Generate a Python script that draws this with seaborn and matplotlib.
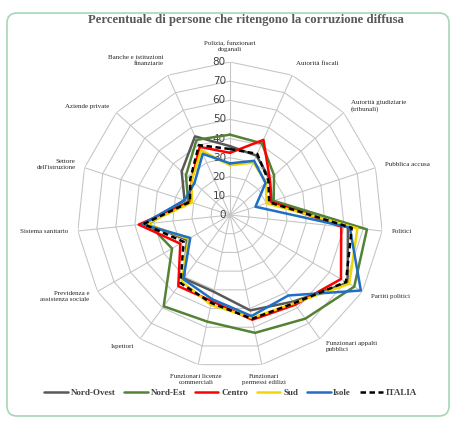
import numpy as np
import pandas as pd
import matplotlib
matplotlib.use("Agg")
import matplotlib.pyplot as plt
import matplotlib.transforms as mtransforms
from matplotlib.patches import FancyBboxPatch
import seaborn as sns

# categories (clockwise from top)
categories = [
    "Polizia, funzionari\ndoganali",
    "Autorità fiscali",
    "Autorità giudiziarie\n(tribunali)",
    "Pubblica accusa",
    "Politici",
    "Partiti politici",
    "Funzionari appalti\npubblici",
    "Funzionari\npermessi edilizi",
    "Funzionari licenze\ncommerciali",
    "Ispettori",
    "Previdenza e\nassistenza sociale",
    "Sistema sanitario",
    "Settore\ndell'istruzione",
    "Aziende private",
    "Banche e istituzioni\nfinanziarie",
]

# values (%)
nord_ovest = [36, 34, 28, 23, 62, 71, 56, 51, 41, 41, 26, 44, 25, 34, 45]
nord_est = [42, 41, 31, 24, 72, 75, 67, 63, 57, 59, 35, 43, 23, 31, 43]
centro = [32.5, 43, 28, 22.5, 58.5, 67, 58, 56, 46, 46, 30, 48, 22, 27, 39]
sud = [26, 30, 25.5, 20, 67, 72, 57, 55, 48, 43, 25, 44, 21, 27, 37]
isole = [27, 31, 25, 14, 63, 79, 52, 54, 45, 41.5, 24, 46, 25, 25, 35]
italia = [34.5, 35, 27, 21.5, 64, 70, 57, 55.5, 47, 44, 28, 45.5, 22, 28, 40]

series_names = ["Nord-Ovest", "Nord-Est", "Centro", "Sud", "Isole", "ITALIA"]
series_vals = [nord_ovest, nord_est, centro, sud, isole, italia]
colors = ["#595959", "#548235", "#ff0000", "#f2d600", "#1f6fc4", "#000000"]
styles = ["-", "-", "-", "-", "-", (0, (2.2, 1.4))]

r_ticks = list(range(0, 81, 10))

sns.set_style("white")
plt.rcParams["font.family"] = ["DejaVu Sans"]

n = len(categories)
theta = np.linspace(0, 2 * np.pi, n, endpoint=False)
theta_closed = np.append(theta, theta[0])

fig = plt.figure(figsize=(4.74, 4.34), dpi=100)
ax = fig.add_axes([77 / 474, 66 / 434, 306 / 474, 306 / 434], projection="polar")
ax.set_theta_zero_location("N")
ax.set_theta_direction(-1)
ax.set_ylim(0, 80)
ax.grid(False)
ax.spines["polar"].set_visible(False)
ax.set_xticks([])
ax.set_yticks([])
ax.patch.set_alpha(0)

# polygon grid
grid_c = "#c4c4c4"
for r in r_ticks[1:]:
    ax.plot(theta_closed, [r] * (n + 1), color=grid_c, lw=0.75, zorder=1)
for t in theta:
    ax.plot([t, t], [0, 80], color=grid_c, lw=0.75, zorder=1)

# radial labels next to the top spoke
off = mtransforms.offset_copy(ax.transData, fig=fig, x=-3, y=0, units="points")
for r in r_ticks:
    ax.text(0, r, str(r), transform=off, ha="right", va="center",
            fontsize=7.5, color="#404040", zorder=2)

# series
for name, vals, c, ls in zip(series_names, series_vals, colors, styles):
    df = pd.DataFrame({"theta": theta_closed, "value": vals + [vals[0]]})
    sns.lineplot(data=df, x="theta", y="value", sort=False, estimator=None,
                 color=c, linestyle=ls, lw=1.8, label=name, ax=ax, zorder=3)

ax.set_xlabel("")
ax.set_ylabel("")
ax.get_legend().remove()

# category labels
for t, lab in zip(theta, categories):
    s = np.sin(t)
    if abs(s) < 0.25:
        ha = "center"
    elif s > 0:
        ha = "left"
    else:
        ha = "right"
    c = np.cos(t)
    va = "bottom" if c > 0.85 else ("top" if c < -0.85 else "center")
    ax.text(t, 85, lab, ha=ha, va=va, fontsize=5, family="Liberation Serif",
            color="#262626", linespacing=1.3)

# title
fig.text(0.518, 0.955, "Percentuale di persone che ritengono la corruzione diffusa",
         ha="center", va="center", fontsize=9.2, fontweight="bold",
         family="Liberation Serif", color="#595959")

# legend
handles, labels = ax.get_legend_handles_labels()
fig.legend(handles, labels, loc="center", bbox_to_anchor=(0.487, 0.094), ncol=6,
           frameon=False, handlelength=2.6, handletextpad=0.3, columnspacing=1.0,
           prop={"family": "Liberation Serif", "weight": "bold", "size": 6.5})
for txt in fig.legends[0].get_texts():
    txt.set_color("#404040")

# rounded green border
box = FancyBboxPatch((7, 434 - 416), 442, 403, boxstyle="round,pad=0,rounding_size=10",
                     transform=mtransforms.IdentityTransform(), fill=False,
                     edgecolor="#a6d7b5", lw=1.2)
fig.patches.append(box)

fig.savefig("out.png", dpi=100)
